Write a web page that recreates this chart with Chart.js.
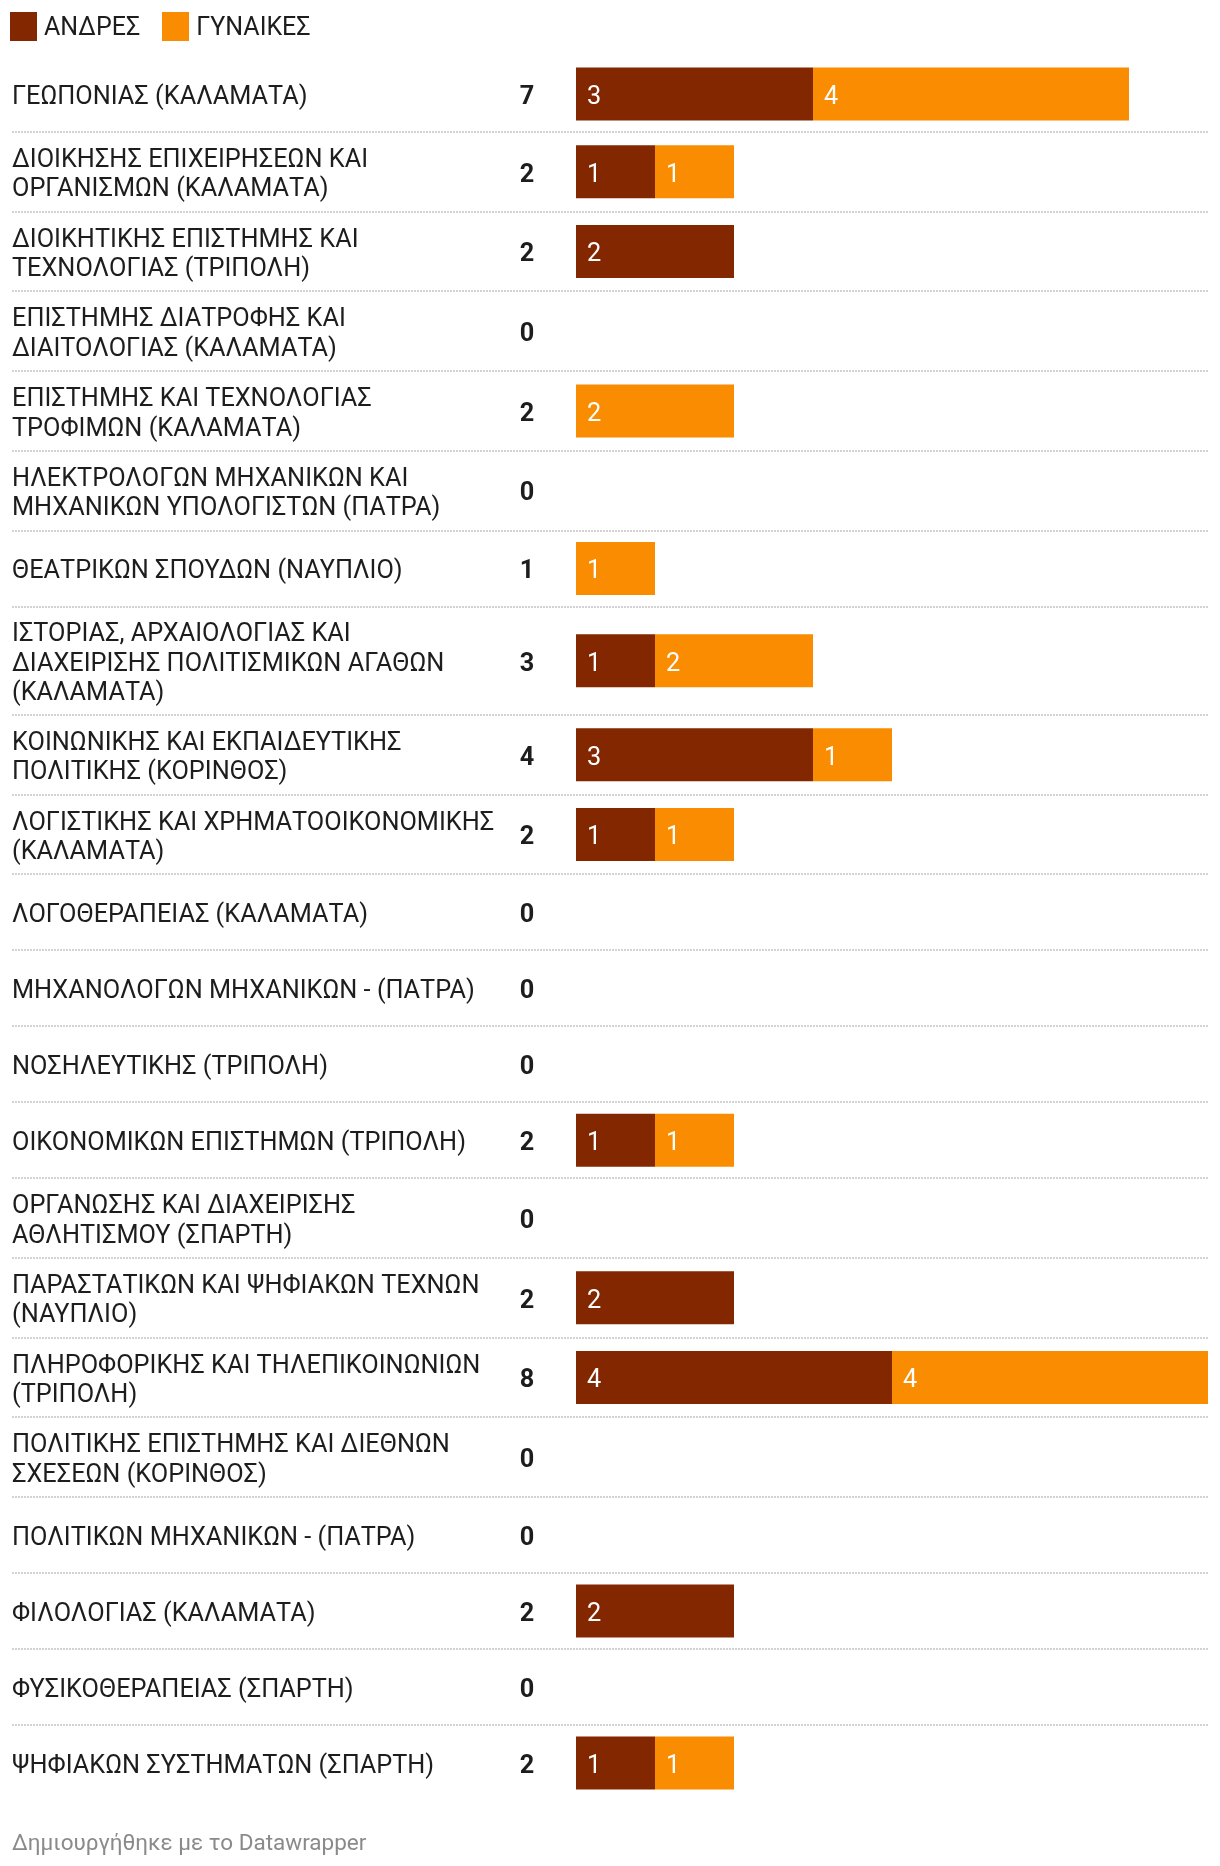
<!DOCTYPE html>
<html><head><meta charset="utf-8">
<script src="https://cdn.jsdelivr.net/npm/chart.js@4"></script>
<style>
html,body{margin:0;padding:0;background:#fff;}
body{width:1220px;height:1866px;position:relative;overflow:hidden;font-family:Roboto,sans-serif;}
#wrap{position:absolute;left:0;top:0;width:1220px;height:1866px;}
#legend{position:absolute;left:10px;top:12px;display:flex;align-items:center;font-size:25px;color:#1d1d1d;line-height:29px;}
.item{display:flex;align-items:center;margin-right:22px;}
.sw{width:27px;height:29px;display:inline-block;margin-right:7px;}
#footer{position:absolute;left:12px;top:1828px;font-size:22.5px;line-height:28px;color:#8a8a8a;}
</style></head><body>
<div id="wrap"><canvas id="c"></canvas></div>
<div id="legend"></div>
<div id="footer">Δημιουργήθηκε με το Datawrapper</div>
<script>
const categories = [
  ["ΓΕΩΠΟΝΙΑΣ (ΚΑΛΑΜΑΤΑ)"],
  ["ΔΙΟΙΚΗΣΗΣ ΕΠΙΧΕΙΡΗΣΕΩΝ ΚΑΙ","ΟΡΓΑΝΙΣΜΩΝ (ΚΑΛΑΜΑΤΑ)"],
  ["ΔΙΟΙΚΗΤΙΚΗΣ ΕΠΙΣΤΗΜΗΣ ΚΑΙ","ΤΕΧΝΟΛΟΓΙΑΣ (ΤΡΙΠΟΛΗ)"],
  ["ΕΠΙΣΤΗΜΗΣ ΔΙΑΤΡΟΦΗΣ ΚΑΙ","ΔΙΑΙΤΟΛΟΓΙΑΣ (ΚΑΛΑΜΑΤΑ)"],
  ["ΕΠΙΣΤΗΜΗΣ ΚΑΙ ΤΕΧΝΟΛΟΓΙΑΣ","ΤΡΟΦΙΜΩΝ (ΚΑΛΑΜΑΤΑ)"],
  ["ΗΛΕΚΤΡΟΛΟΓΩΝ ΜΗΧΑΝΙΚΩΝ ΚΑΙ","ΜΗΧΑΝΙΚΩΝ ΥΠΟΛΟΓΙΣΤΩΝ (ΠΑΤΡΑ)"],
  ["ΘΕΑΤΡΙΚΩΝ ΣΠΟΥΔΩΝ (ΝΑΥΠΛΙΟ)"],
  ["ΙΣΤΟΡΙΑΣ, ΑΡΧΑΙΟΛΟΓΙΑΣ ΚΑΙ","ΔΙΑΧΕΙΡΙΣΗΣ ΠΟΛΙΤΙΣΜΙΚΩΝ ΑΓΑΘΩΝ","(ΚΑΛΑΜΑΤΑ)"],
  ["ΚΟΙΝΩΝΙΚΗΣ ΚΑΙ ΕΚΠΑΙΔΕΥΤΙΚΗΣ","ΠΟΛΙΤΙΚΗΣ (ΚΟΡΙΝΘΟΣ)"],
  ["ΛΟΓΙΣΤΙΚΗΣ ΚΑΙ ΧΡΗΜΑΤΟΟΙΚΟΝΟΜΙΚΗΣ","(ΚΑΛΑΜΑΤΑ)"],
  ["ΛΟΓΟΘΕΡΑΠΕΙΑΣ (ΚΑΛΑΜΑΤΑ)"],
  ["ΜΗΧΑΝΟΛΟΓΩΝ ΜΗΧΑΝΙΚΩΝ - (ΠΑΤΡΑ)"],
  ["ΝΟΣΗΛΕΥΤΙΚΗΣ (ΤΡΙΠΟΛΗ)"],
  ["ΟΙΚΟΝΟΜΙΚΩΝ ΕΠΙΣΤΗΜΩΝ (ΤΡΙΠΟΛΗ)"],
  ["ΟΡΓΑΝΩΣΗΣ ΚΑΙ ΔΙΑΧΕΙΡΙΣΗΣ","ΑΘΛΗΤΙΣΜΟΥ (ΣΠΑΡΤΗ)"],
  ["ΠΑΡΑΣΤΑΤΙΚΩΝ ΚΑΙ ΨΗΦΙΑΚΩΝ ΤΕΧΝΩΝ","(ΝΑΥΠΛΙΟ)"],
  ["ΠΛΗΡΟΦΟΡΙΚΗΣ ΚΑΙ ΤΗΛΕΠΙΚΟΙΝΩΝΙΩΝ","(ΤΡΙΠΟΛΗ)"],
  ["ΠΟΛΙΤΙΚΗΣ ΕΠΙΣΤΗΜΗΣ ΚΑΙ ΔΙΕΘΝΩΝ","ΣΧΕΣΕΩΝ (ΚΟΡΙΝΘΟΣ)"],
  ["ΠΟΛΙΤΙΚΩΝ ΜΗΧΑΝΙΚΩΝ - (ΠΑΤΡΑ)"],
  ["ΦΙΛΟΛΟΓΙΑΣ (ΚΑΛΑΜΑΤΑ)"],
  ["ΦΥΣΙΚΟΘΕΡΑΠΕΙΑΣ (ΣΠΑΡΤΗ)"],
  ["ΨΗΦΙΑΚΩΝ ΣΥΣΤΗΜΑΤΩΝ (ΣΠΑΡΤΗ)"]
];
const men   = [3,1,2,0,0,0,0,1,3,1,0,0,0,1,0,2,4,0,0,2,0,1];
const women = [4,1,0,0,2,0,1,2,1,1,0,0,0,1,0,0,4,0,0,0,0,1];
const seriesNames = ["ΑΝΔΡΕΣ","ΓΥΝΑΙΚΕΣ"];
const seriesColors = ["#832700","#f98c00"];
const xMax = 8;

// layout: row height depends on number of label lines
const PAGE_H = 1866, TOP = 56;
const LINE_H = 29.5;
const rowHeight = n => Math.max(76, 28.7 * n + 22.3);
const rowTops = [], rowCenters = [];
let acc = 0;
categories.forEach(lines => {
  const h = rowHeight(lines.length);
  rowTops.push(acc);
  rowCenters.push(acc + h / 2);
  acc += h;
});
const totalH = acc;
const totals = men.map((m, i) => m + women[i]);

// legend
const lg = document.getElementById('legend');
seriesNames.forEach((n, i) => {
  const it = document.createElement('div'); it.className = 'item';
  const sw = document.createElement('span'); sw.className = 'sw'; sw.style.background = seriesColors[i];
  const t = document.createElement('span'); t.textContent = n;
  it.appendChild(sw); it.appendChild(t); lg.appendChild(it);
});

const FONT = "Roboto, sans-serif";
const FS = 25.3;
const TEXT_DY = 3.5;

const overlay = {
  id: 'overlay',
  afterDatasetsDraw(chart) {
    const ctx = chart.ctx, y = chart.scales.y, area = chart.chartArea;
    ctx.save();
    // dotted separators
    ctx.strokeStyle = '#d3d3d3';
    ctx.lineWidth = 2;
    ctx.setLineDash([2, 1]);
    for (let i = 1; i < rowTops.length; i++) {
      const py = Math.round(y.getPixelForValue(rowTops[i]));
      ctx.beginPath(); ctx.moveTo(12, py); ctx.lineTo(area.right, py); ctx.stroke();
    }
    ctx.setLineDash([]);
    // totals
    ctx.fillStyle = '#1d1d1d';
    ctx.font = `bold ${FS}px ${FONT}`;
    ctx.textAlign = 'center'; ctx.textBaseline = 'middle';
    totals.forEach((t, i) => ctx.fillText(String(t), 527, y.getPixelForValue(rowCenters[i]) + TEXT_DY));
    // value labels inside bars
    ctx.fillStyle = '#ffffff';
    ctx.font = `${FS}px ${FONT}`;
    ctx.textAlign = 'left';
    chart.data.datasets.forEach((ds, di) => {
      const meta = chart.getDatasetMeta(di);
      meta.data.forEach((bar, i) => {
        const v = ds.data[i].x;
        if (!v) return;
        const left = Math.min(bar.base, bar.x);
        ctx.fillText(String(v), left + 11, bar.y + TEXT_DY);
      });
    });
    ctx.restore();
  }
};

new Chart(document.getElementById('c'), {
  type: 'bar',
  data: {
    datasets: [
      { label: seriesNames[0], data: men.map((v, i) => ({ x: v || null, y: rowCenters[i] })), backgroundColor: seriesColors[0], barThickness: 53, stack: 's', inflateAmount: 0 },
      { label: seriesNames[1], data: women.map((v, i) => ({ x: v || null, y: rowCenters[i] })), backgroundColor: seriesColors[1], barThickness: 53, stack: 's', inflateAmount: 0 }
    ]
  },
  options: {
    indexAxis: 'y',
    responsive: true,
    maintainAspectRatio: false,
    animation: false,
    layout: { padding: { left: 12, right: 12, top: TOP, bottom: PAGE_H - TOP - totalH } },
    plugins: { legend: { display: false }, tooltip: { enabled: false } },
    scales: {
      x: { type: 'linear', min: 0, max: xMax, stacked: true, display: false },
      y: {
        type: 'linear', reverse: true, min: 0, max: totalH, stacked: true, offset: false,
        grid: { display: false, offset: false }, border: { display: false },
        afterBuildTicks(s) { s.ticks = rowCenters.map(v => ({ value: v })); },
        afterFit(s) { s.width = 564; },
        ticks: {
          autoSkip: false, crossAlign: 'far', padding: 0, labelOffset: TEXT_DY,
          color: '#1d1d1d',
          font: { family: FONT, size: FS, lineHeight: LINE_H / FS },
          callback: (v, i) => categories[i]
        }
      }
    }
  },
  plugins: [overlay]
});
</script>
</body></html>
